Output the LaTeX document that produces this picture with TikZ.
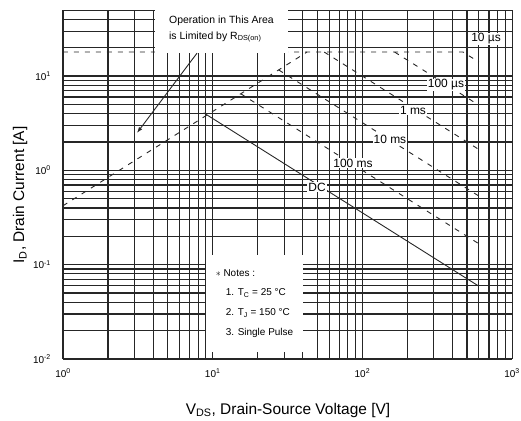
\documentclass[tikz,border=0pt]{standalone}
\usepackage{fontspec}
\setmainfont{Liberation Sans}
\usetikzlibrary{arrows.meta}
\tikzset{
  gridline/.style={black!85,line width=1.2bp},
  limit/.style={black!85,line width=0.9bp,dash pattern=on 5bp off 6bp},
  dcline/.style={black!85,line width=0.9bp},
  curvelbl/.style={fill=white,inner sep=1bp,font=\fontsize{12}{14}\selectfont},
  ticklbl/.style={inner sep=1bp,font=\fontsize{10}{11}\selectfont},
  axistitle/.style={inner sep=0pt,font=\fontsize{15.5}{17}\selectfont},
  notetext/.style={font=\fontsize{10}{20}\selectfont}
}
\begin{document}
\begin{tikzpicture}[x=149.7bp,y=94.3bp]
\useasboundingbox (-0.42084,-0.65748) rectangle (3.05945,3.80700);

\foreach \d in {0,1,2}
  \foreach \m in {1,...,9}
    \draw[gridline] ({\d+ln(\m)/ln(10)},0) -- ({\d+ln(\m)/ln(10)},3.69897);
\draw[gridline] (3,0) -- (3,3.69897);
\foreach \d in {0,1,2}
  \foreach \m in {1,...,9}
    \draw[gridline] (0,{\d+ln(\m)/ln(10)}) -- (3,{\d+ln(\m)/ln(10)});
\foreach \m in {1,...,5}
  \draw[gridline] (0,{3+ln(\m)/ln(10)}) -- (3,{3+ln(\m)/ln(10)});

\draw[limit] (0,1.625) -- (1.63,3.255);
\draw[limit] (0,3.255) -- (2.672,3.255) -- (2.778,3.149);
\draw[limit] (2.215,3.255) -- (2.778,2.692);
\draw[limit] (1.745,3.255) -- (2.778,2.222);
\draw[limit] (1.4405,3.0655) -- (2.778,1.728);
\draw[limit] (1.1875,2.8125) -- (2.778,1.222);
\draw[dcline] (0.94,2.61) -- (2.778,0.772);

\node[curvelbl] (lbl10us) at (2.826,3.393) {10 µs};
\node[curvelbl] (lbl100us) at (2.558,2.906) {100 µs};
\node[curvelbl] (lbl1ms) at (2.338,2.640) {1 ms};
\node[curvelbl] (lbl10ms) at (2.184,2.333) {10 ms};
\node[curvelbl] (lbl100ms) at (1.937,2.078) {100 ms};
\node[curvelbl] (lbldc) at (1.697,1.824) {DC};

\node[fill=white,minimum width=133bp,minimum height=48bp,inner sep=0pt,align=left,
  font=\fontsize{10.5}{16}\selectfont] (rdsbox) at (1.0588,3.4995)
  {Operation in This Area\\is Limited by R\textsubscript{DS(on)}};
\coordinate (rdsfoot) at (0.8951,0);
\coordinate (rdstip) at (0.494,2.397);
\draw[black!85,line width=0.9bp,-{Latex[length=6bp,width=4bp]}] (rdsbox.south -| rdsfoot) -- (rdstip);

\node[fill=white,minimum width=97bp,minimum height=97bp,inner sep=0pt,align=left,notetext]
  (notesbox) at (1.2792,0.5885)
  {$\ast$ Notes :\\\hspace*{10bp}1. T\textsubscript{C} = 25 °C\\\hspace*{10bp}2. T\textsubscript{J} = 150 °C\\\hspace*{10bp}3. Single Pulse};

\foreach \d in {0,1,2,3}
  \node[ticklbl] (xt\d) at (\d,-0.1485) {10\textsuperscript{\d}};
\node[ticklbl,anchor=east] (yt0) at (-0.0735,0) {10\textsuperscript{-2}};
\node[ticklbl,anchor=east] (yt1) at (-0.0735,1) {10\textsuperscript{-1}};
\node[ticklbl,anchor=east] (yt2) at (-0.0735,2) {10\textsuperscript{0}};
\node[ticklbl,anchor=east] (yt3) at (-0.0735,3) {10\textsuperscript{1}};

\node[axistitle] (xtitle) at (1.503,-0.541) {V\textsubscript{DS}, Drain-Source Voltage [V]};
\node[axistitle,rotate=90] (ytitle) at (-0.287,1.739) {I\textsubscript{D}, Drain Current [A]};
\end{tikzpicture}
\end{document}
